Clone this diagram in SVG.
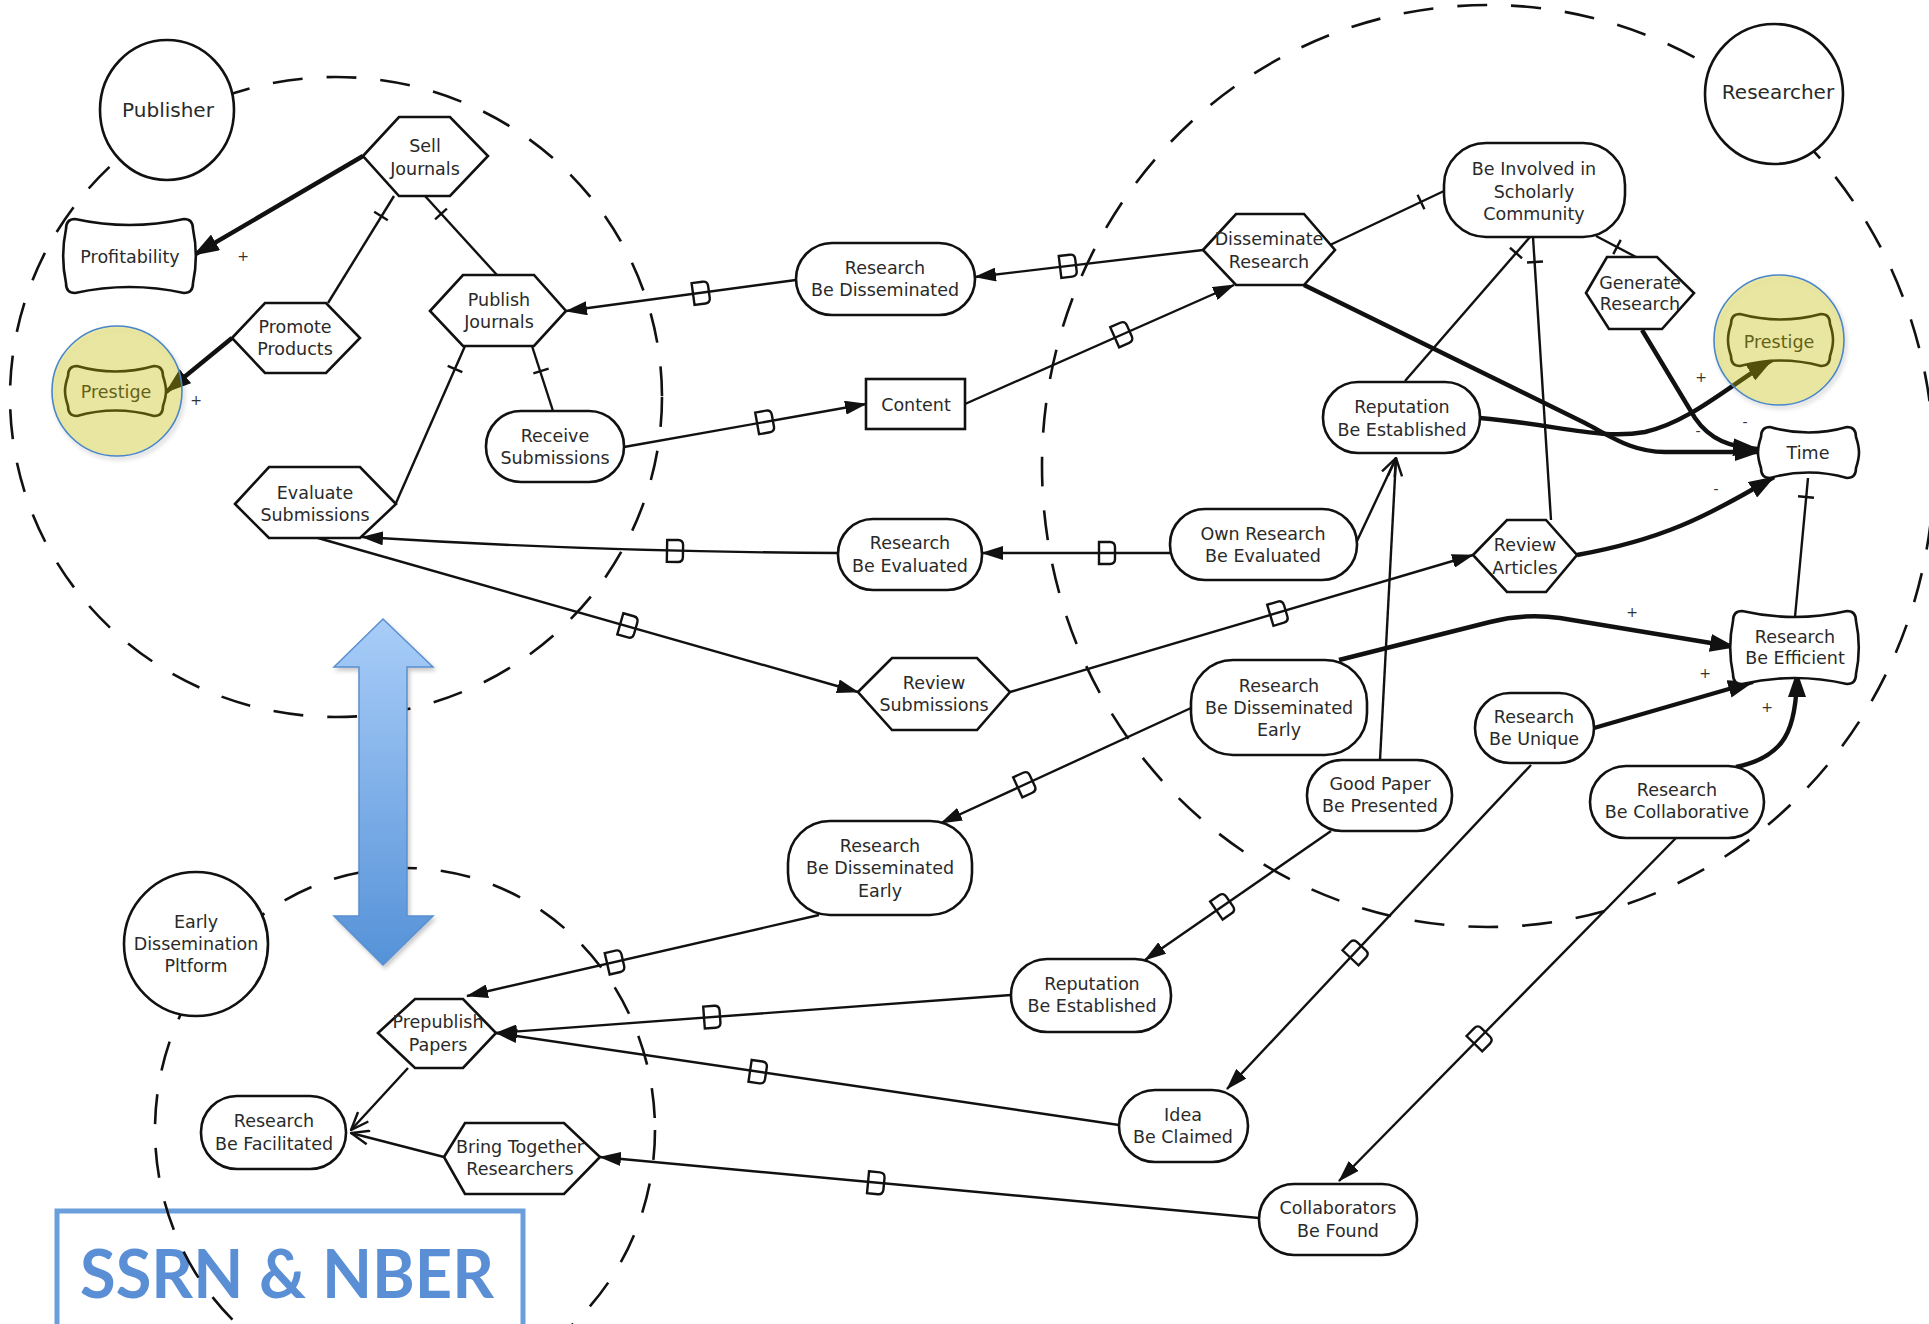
<svg xmlns="http://www.w3.org/2000/svg" xmlns:xlink="http://www.w3.org/1999/xlink" width="1929" height="1324" viewBox="0 0 1929 1324">
<defs>
<style>
.n{fill:#fff;stroke:#111;stroke-width:2.6}
.t{font-family:"DejaVu Sans",sans-serif;font-size:17.5px;fill:#2a2a2a;text-anchor:middle}
.big{font-size:20px}
.c{fill:none;stroke:#111;stroke-width:2.4}
.k{stroke-width:4.4}
.d{fill:none;stroke:#111;stroke-width:2.6;stroke-dasharray:30 24}
.s{font-family:"DejaVu Sans",sans-serif;font-size:14px;fill:#333;text-anchor:middle}
.hl{fill:rgb(205,200,0);fill-opacity:0.32;stroke:#4a86c8;stroke-width:1.6}
.fa{marker-end:url(#fa)}
.fk{marker-end:url(#fk)}
.oa{marker-end:url(#oa)}
</style>
<filter id="sh" x="-15%" y="-15%" width="140%" height="140%"><feDropShadow dx="2" dy="3" stdDeviation="2" flood-color="#000" flood-opacity="0.22"/></filter>
<marker id="fa" viewBox="0 0 22 14" refX="21" refY="7" markerWidth="22" markerHeight="14" orient="auto" markerUnits="userSpaceOnUse"><path d="M0,0 L22,7 L0,14 z" fill="#111"/></marker>
<marker id="fk" viewBox="0 0 26 18" refX="25" refY="9" markerWidth="26" markerHeight="18" orient="auto" markerUnits="userSpaceOnUse"><path d="M0,0 L26,9 L0,18 z" fill="#111"/></marker>
<marker id="oa" viewBox="0 0 20 16" refX="19" refY="8" markerWidth="20" markerHeight="16" orient="auto" markerUnits="userSpaceOnUse"><path d="M1,1 L19,8 L1,15" fill="none" stroke="#111" stroke-width="2.4"/></marker>
<path id="mk" d="M-8,-11 H3 Q8,-11 8,-6 V6 Q8,11 3,11 H-8 Z" fill="none" stroke="#111" stroke-width="2.4"/>
<line id="tk" x1="0" y1="-8" x2="0" y2="8" stroke="#111" stroke-width="2.4"/>
<linearGradient id="bg" x1="0" y1="0" x2="0" y2="1">
<stop offset="0" stop-color="#a9cdf8"/>
<stop offset="1" stop-color="#5592d8"/>
</linearGradient>
</defs>
<rect width="1929" height="1324" fill="#fff"/>

<g id="ssrn-box">
<rect x="57" y="1211" width="466" height="130" fill="#fff" stroke="#6a9fdc" stroke-width="5"/>
<text x="80" y="1298" font-family="Lato,'Liberation Sans',sans-serif" font-weight="bold" font-size="66" fill="#5a8fd6" textLength="414" lengthAdjust="spacingAndGlyphs">SSRN &amp; NBER</text>
</g>

<g id="boundaries">
<ellipse class="d" cx="336" cy="397" rx="326" ry="320"/>
<ellipse class="d" cx="1488" cy="466" rx="446" ry="461"/>
<ellipse class="d" cx="405" cy="1130" rx="250" ry="262"/>
</g>

<g id="connectors">
<path class="c k fk" d="M363,156 L194,255"/>
<path class="c" d="M394,196 L328,303"/>
<path class="c" d="M425,196 L497,275"/>
<path class="c k fk" d="M232,338 L166,392"/>
<path class="c" d="M465,346 L396,503"/>
<path class="c" d="M532,346 L553,411"/>
<path class="c fa" d="M796,280 L566,311"/>
<path class="c fa" d="M1203,250 L975,277"/>
<path class="c fa" d="M624,447 L866,404"/>
<path class="c fa" d="M965,404 L1234,285"/>
<path class="c fa" d="M1170,553 L982,553"/>
<path class="c fa" d="M838,553 Q600,552 362,537"/>
<path class="c fa" d="M318,538 L858,692"/>
<path class="c fa" d="M1010,692 L1473,555"/>
<path class="c" d="M1330,245 L1444,191"/>
<path class="c k fk" d="M1304,285 L1585,423 C1612,437 1632,452 1665,452 L1760,452"/>
<path class="c" d="M1405,381 L1530,237"/>
<path class="c" d="M1551,520 L1533,237"/>
<path class="c" d="M1596,236 L1636,257"/>
<path class="c k fk" d="M1642,330 L1695,418 C1710,440 1730,447 1758,449"/>
<path class="c k fk" d="M1480,418 C1560,425 1600,440 1645,432 C1690,422 1730,385 1772,360"/>
<path class="c k fk" d="M1577,555 C1660,540 1705,518 1774,477"/>
<path class="c" d="M1808,478 L1795,617"/>
<path class="c k fk" d="M1339,660 L1490,622 Q1525,613 1560,618 L1735,647"/>
<path class="c k fk" d="M1594,728 L1753,682"/>
<path class="c k fk" d="M1736,767 C1785,757 1797,730 1797,672"/>
<path class="c oa" d="M1357,541 L1396,458"/>
<path class="c oa" d="M1380,760 L1396,458"/>
<path class="c fa" d="M1191,708 L941,823"/>
<path class="c fa" d="M819,915 L467,996"/>
<path class="c fa" d="M1331,831 L1145,960"/>
<path class="c fa" d="M1011,995 L496,1033"/>
<path class="c fa" d="M1531,765 L1227,1089"/>
<path class="c fa" d="M1119,1125 L496,1033"/>
<path class="c fa" d="M1676,838 L1339,1181"/>
<path class="c fa" d="M1259,1218 L600,1157"/>
<path class="c oa" d="M408,1068 L351,1130"/>
<path class="c oa" d="M444,1157 L351,1133"/>
<use xlink:href="#tk" transform="translate(381,216) rotate(121.7)"/>
<use xlink:href="#tk" transform="translate(441,214) rotate(47.7)"/>
<use xlink:href="#tk" transform="translate(455,369) rotate(113.7)"/>
<use xlink:href="#tk" transform="translate(541,371) rotate(72.1)"/>
<use xlink:href="#tk" transform="translate(1421,202) rotate(-25.3)"/>
<use xlink:href="#tk" transform="translate(1516,253) rotate(-49)"/>
<use xlink:href="#tk" transform="translate(1535,262) rotate(-93.6)"/>
<use xlink:href="#tk" transform="translate(1617,247) rotate(27.7)"/>
<use xlink:href="#tk" transform="translate(1806,497) rotate(95.3)"/>
<use xlink:href="#mk" transform="translate(701,293) rotate(-7.7)"/>
<use xlink:href="#mk" transform="translate(1068,266) rotate(-6.8)"/>
<use xlink:href="#mk" transform="translate(765,422) rotate(-10.1)"/>
<use xlink:href="#mk" transform="translate(1122,334) rotate(-23.9)"/>
<use xlink:href="#mk" transform="translate(1107,553)"/>
<use xlink:href="#mk" transform="translate(675,551) rotate(1)"/>
<use xlink:href="#mk" transform="translate(628,626) rotate(15.9)"/>
<use xlink:href="#mk" transform="translate(1278,613) rotate(-16.5)"/>
<use xlink:href="#mk" transform="translate(1025,784) rotate(-24.7)"/>
<use xlink:href="#mk" transform="translate(615,962) rotate(-13)"/>
<use xlink:href="#mk" transform="translate(1223,906) rotate(-34.7)"/>
<use xlink:href="#mk" transform="translate(712,1017) rotate(-4.2)"/>
<use xlink:href="#mk" transform="translate(1356,952) rotate(-46.8)"/>
<use xlink:href="#mk" transform="translate(758,1072) rotate(8.4)"/>
<use xlink:href="#mk" transform="translate(1480,1038) rotate(-45.5)"/>
<use xlink:href="#mk" transform="translate(876,1183) rotate(5.3)"/>
<text class="s" x="243" y="261">+</text>
<text class="s" x="196" y="405">+</text>
<text class="s" x="1701" y="382">+</text>
<text class="s" x="1698" y="436">-</text>
<text class="s" x="1745" y="427">-</text>
<text class="s" x="1716" y="494">-</text>
<text class="s" x="1632" y="617">+</text>
<text class="s" x="1705" y="678">+</text>
<text class="s" x="1767" y="712">+</text>
</g>

<g id="publisher"><ellipse class="n" cx="167" cy="110" rx="67" ry="70"/><text class="t big" x="168" y="117">Publisher</text></g>
<g id="sell-journals"><polygon class="n" points="363,156 399,117 450,117 488,156 450,196 399,196"/><text class="t" x="425" y="152">Sell</text><text class="t" x="425" y="175">Journals</text></g>
<g id="profitability"><path class="n" d="M75,219 Q129.5,231 184,219 Q193,219 193,229 C197,248 197,264 193,283 Q193,293 184,293 Q129.5,281 75,293 Q66,293 66,283 C62,264 62,248 66,229 Q66,219 75,219 Z"/><text class="t" x="130" y="263">Profitability</text></g>
<g id="prestige-left"><path class="n" stroke-width="3.6" d="M77,366 Q115.5,377 154,366 Q163,366 163,376 C167,388 167,394 163,406 Q163,416 154,416 Q115.5,405 77,416 Q68,416 68,406 C64,394 64,388 68,376 Q68,366 77,366 Z"/><text class="t" x="116" y="398">Prestige</text></g>
<g id="promote-products"><polygon class="n" points="232,338 265,303 326,303 360,338 326,373 265,373"/><text class="t" x="295" y="333">Promote</text><text class="t" x="295" y="355">Products</text></g>
<g id="publish-journals"><polygon class="n" points="430,311 463,275 534,275 566,311 534,346 463,346"/><text class="t" x="499" y="306">Publish</text><text class="t" x="499" y="328">Journals</text></g>
<g id="receive-submissions"><rect class="n" x="486" y="411" width="138" height="71" rx="35"/><text class="t" x="555" y="442">Receive</text><text class="t" x="555" y="464">Submissions</text></g>
<g id="evaluate-submissions"><polygon class="n" points="235,504 269,467 360,467 396,504 360,538 269,538"/><text class="t" x="315" y="499">Evaluate</text><text class="t" x="315" y="521">Submissions</text></g>
<g id="research-be-disseminated"><rect class="n" x="796" y="243" width="179" height="72" rx="36"/><text class="t" x="885" y="274">Research</text><text class="t" x="885" y="296">Be Disseminated</text></g>
<g id="content"><rect class="n" x="866" y="379" width="99" height="50"/><text class="t" x="916" y="411">Content</text></g>
<g id="research-be-evaluated"><rect class="n" x="838" y="519" width="144" height="71" rx="35"/><text class="t" x="910" y="549">Research</text><text class="t" x="910" y="572">Be Evaluated</text></g>
<g id="review-submissions"><polygon class="n" points="858,692 892,658 977,658 1010,692 977,730 892,730"/><text class="t" x="934" y="689">Review</text><text class="t" x="934" y="711">Submissions</text></g>
<g id="rbde-lower"><rect class="n" x="788" y="821" width="184" height="94" rx="42"/><text class="t" x="880" y="852">Research</text><text class="t" x="880" y="874">Be Disseminated</text><text class="t" x="880" y="897">Early</text></g>
<g id="reputation-lower"><rect class="n" x="1011" y="959" width="160" height="73" rx="36"/><text class="t" x="1092" y="990">Reputation</text><text class="t" x="1092" y="1012">Be Established</text></g>
<g id="idea-be-claimed"><rect class="n" x="1119" y="1090" width="129" height="72" rx="36"/><text class="t" x="1183" y="1121">Idea</text><text class="t" x="1183" y="1143">Be Claimed</text></g>
<g id="collaborators-be-found"><rect class="n" x="1259" y="1184" width="158" height="71" rx="35"/><text class="t" x="1338" y="1214">Collaborators</text><text class="t" x="1338" y="1237">Be Found</text></g>
<g id="researcher"><ellipse class="n" cx="1774" cy="94" rx="69" ry="70"/><text class="t big" x="1778" y="99">Researcher</text></g>
<g id="disseminate-research"><polygon class="n" points="1203,250 1236,214 1304,214 1335,250 1304,285 1236,285"/><text class="t" x="1269" y="245">Disseminate</text><text class="t" x="1269" y="268">Research</text></g>
<g id="be-involved"><rect class="n" x="1444" y="143" width="181" height="94" rx="42"/><text class="t" x="1534" y="175">Be Involved in</text><text class="t" x="1534" y="198">Scholarly</text><text class="t" x="1534" y="220">Community</text></g>
<g id="generate-research"><polygon class="n" points="1586,293 1607,257 1657,257 1694,293 1662,329 1609,329"/><text class="t" x="1640" y="289">Generate</text><text class="t" x="1640" y="310">Research</text></g>
<g id="prestige-right"><path class="n" stroke-width="3.6" d="M1740,314 Q1780.5,325 1821,314 Q1830,314 1830,324 C1834,336 1834,344 1830,356 Q1830,366 1821,366 Q1780.5,355 1740,366 Q1731,366 1731,356 C1727,344 1727,336 1731,324 Q1731,314 1740,314 Z"/><text class="t" x="1779" y="348">Prestige</text></g>
<g id="time"><path class="n" d="M1770,427 Q1808.5,438 1847,427 Q1856,427 1856,437 C1860,449 1860,456 1856,468 Q1856,478 1847,478 Q1808.5,467 1770,478 Q1761,478 1761,468 C1757,456 1757,449 1761,437 Q1761,427 1770,427 Z"/><text class="t" x="1808" y="459">Time</text></g>
<g id="reputation-upper"><rect class="n" x="1323" y="382" width="157" height="71" rx="35"/><text class="t" x="1402" y="413">Reputation</text><text class="t" x="1402" y="436">Be Established</text></g>
<g id="own-research"><rect class="n" x="1170" y="509" width="187" height="71" rx="35"/><text class="t" x="1263" y="540">Own Research</text><text class="t" x="1263" y="562">Be Evaluated</text></g>
<g id="review-articles"><polygon class="n" points="1473,555 1507,520 1546,520 1577,555 1546,592 1507,592"/><text class="t" x="1525" y="551">Review</text><text class="t" x="1525" y="574">Articles</text></g>
<g id="rbde-upper"><rect class="n" x="1191" y="660" width="176" height="95" rx="42"/><text class="t" x="1279" y="692">Research</text><text class="t" x="1279" y="714">Be Disseminated</text><text class="t" x="1279" y="736">Early</text></g>
<g id="research-be-efficient"><path class="n" d="M1742,611 Q1794.5,623 1847,611 Q1856,611 1856,621 C1860,640 1860,655 1856,674 Q1856,684 1847,684 Q1794.5,672 1742,684 Q1733,684 1733,674 C1729,655 1729,640 1733,621 Q1733,611 1742,611 Z"/><text class="t" x="1795" y="643">Research</text><text class="t" x="1795" y="664">Be Efficient</text></g>
<g id="research-be-unique"><rect class="n" x="1475" y="693" width="119" height="70" rx="35"/><text class="t" x="1534" y="723">Research</text><text class="t" x="1534" y="745">Be Unique</text></g>
<g id="good-paper"><rect class="n" x="1307" y="760" width="145" height="71" rx="35"/><text class="t" x="1380" y="790">Good Paper</text><text class="t" x="1380" y="812">Be Presented</text></g>
<g id="research-be-collaborative"><rect class="n" x="1590" y="766" width="174" height="72" rx="36"/><text class="t" x="1677" y="796">Research</text><text class="t" x="1677" y="818">Be Collaborative</text></g>
<g id="early-dissemination"><ellipse class="n" cx="196" cy="944" rx="72" ry="72"/><text class="t" x="196" y="928">Early</text><text class="t" x="196" y="950">Dissemination</text><text class="t" x="196" y="972">Pltform</text></g>
<g id="prepublish-papers"><polygon class="n" points="378,1033 415,999 463,999 496,1033 463,1068 415,1068"/><text class="t" x="438" y="1028">Prepublish</text><text class="t" x="438" y="1051">Papers</text></g>
<g id="research-be-facilitated"><rect class="n" x="201" y="1096" width="145" height="73" rx="36"/><text class="t" x="274" y="1127">Research</text><text class="t" x="274" y="1150">Be Facilitated</text></g>
<g id="bring-together"><polygon class="n" points="444,1157 465,1123 564,1123 600,1157 564,1194 465,1194"/><text class="t" x="520" y="1153">Bring Together</text><text class="t" x="520" y="1175">Researchers</text></g>

<g id="highlights" filter="url(#sh)">
<ellipse class="hl" cx="117" cy="391" rx="65" ry="65"/>
<ellipse class="hl" cx="1779" cy="340" rx="65" ry="65"/>
</g>

<g id="blue-arrow" filter="url(#sh)">
<polygon points="383,619 433,667 407,667 407,916 433,916 383,965 334,916 359,916 359,667 334,667" fill="url(#bg)" stroke="#5a8fd0" stroke-width="1.5"/>
</g>
</svg>
